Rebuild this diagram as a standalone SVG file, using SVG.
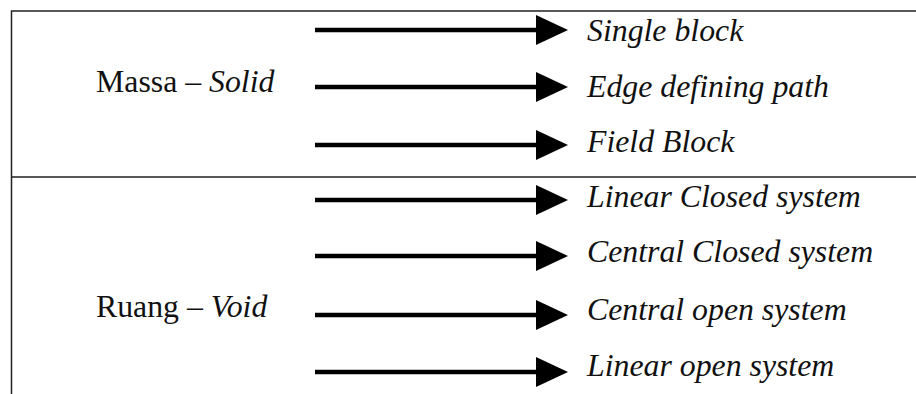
<svg xmlns="http://www.w3.org/2000/svg" width="916" height="394" viewBox="0 0 916 394">
<style>
.frame{stroke:#222;stroke-width:1.5;fill:none}
.arr{stroke:#000;stroke-width:4.5;fill:none}
.lbl{font-family:"Liberation Serif","Times New Roman",serif;font-size:31.8px;fill:#111}
.it{font-style:italic}
</style>
<defs>
<marker id="ah" markerUnits="userSpaceOnUse" markerWidth="34" markerHeight="30" refX="0" refY="15" orient="auto">
<path d="M0,0 L32,15 L0,30 Z" fill="#000"/>
</marker>
</defs>
<rect width="916" height="394" fill="#fff"/>
<g id="frame">
<path class="frame" d="M11.5,394 V11 H916 M11.5,177 H916"/>
</g>
<g id="node-massa"><text class="lbl" x="96" y="92">Massa – <tspan class="it">Solid</tspan></text></g>
<g id="node-ruang"><text class="lbl" x="96" y="317">Ruang – <tspan class="it">Void</tspan></text></g>
<g id="node-single"><text class="lbl it" x="587" y="41">Single block</text></g>
<g id="node-edge"><text class="lbl it" x="587" y="97">Edge defining path</text></g>
<g id="node-field"><text class="lbl it" x="587" y="152">Field Block</text></g>
<g id="node-lcs"><text class="lbl it" x="587" y="207">Linear Closed system</text></g>
<g id="node-ccs"><text class="lbl it" x="587" y="262">Central Closed system</text></g>
<g id="node-cos"><text class="lbl it" x="587" y="320">Central open system</text></g>
<g id="node-los"><text class="lbl it" x="587" y="376">Linear open system</text></g>
<g id="connectors">
<path class="arr" marker-end="url(#ah)" d="M315,30 H536"/>
<path class="arr" marker-end="url(#ah)" d="M315,87 H536"/>
<path class="arr" marker-end="url(#ah)" d="M315,145 H536"/>
<path class="arr" marker-end="url(#ah)" d="M315,200 H536"/>
<path class="arr" marker-end="url(#ah)" d="M315,256 H536"/>
<path class="arr" marker-end="url(#ah)" d="M315,315 H536"/>
<path class="arr" marker-end="url(#ah)" d="M315,372 H536"/>
</g>
</svg>
